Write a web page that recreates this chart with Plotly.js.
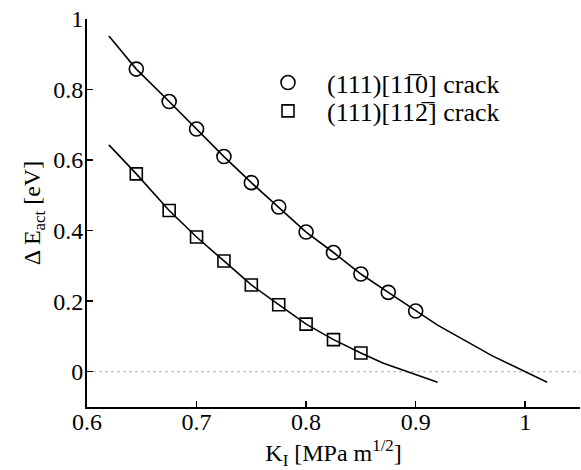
<!DOCTYPE html>
<html>
<head>
<meta charset="utf-8">
<script src="https://cdn.plot.ly/plotly-3.0.1.min.js"></script>
<style>html,body{margin:0;padding:0;background:#fff;}#chart{width:581px;height:470px;}</style>
</head>
<body>
<div id="chart"></div>
<script>
// Data
var kCircle = [0.645, 0.675, 0.7, 0.725, 0.75, 0.775, 0.8, 0.825, 0.85, 0.875, 0.9];
var eCircle = [0.858, 0.766, 0.688, 0.610, 0.536, 0.467, 0.396, 0.338, 0.277, 0.225, 0.172];
var kCircleFit = [0.62, 0.645, 0.675, 0.7, 0.725, 0.75, 0.775, 0.8, 0.825, 0.85, 0.875, 0.9, 0.92, 0.97, 1.02];
var eCircleFit = [0.952, 0.858, 0.766, 0.688, 0.610, 0.536, 0.467, 0.396, 0.338, 0.277, 0.225, 0.172, 0.132, 0.045, -0.030];

var kSquare = [0.645, 0.675, 0.7, 0.725, 0.75, 0.775, 0.8, 0.825, 0.85];
var eSquare = [0.561, 0.457, 0.382, 0.314, 0.246, 0.190, 0.135, 0.091, 0.053];
var kSquareFit = [0.62, 0.645, 0.675, 0.7, 0.725, 0.75, 0.775, 0.8, 0.825, 0.85, 0.87, 0.92];
var eSquareFit = [0.643, 0.561, 0.457, 0.382, 0.314, 0.246, 0.190, 0.135, 0.091, 0.053, 0.025, -0.030];

var xTicks = [0.6, 0.7, 0.8, 0.9, 1];
var xTickText = ['0.6', '0.7', '0.8', '0.9', '1'];
var yTicks = [0, 0.2, 0.4, 0.6, 0.8, 1];
var yTickText = ['0', '0.2', '0.4', '0.6', '0.8', '1'];

var nameCircle = '(111)[11\u03050] crack';
var nameSquare = '(111)[112\u0305] crack';

var FONT = '"Liberation Serif", "Times New Roman", Times, serif';

var traces = [
  {x: kCircleFit, y: eCircleFit, mode: 'lines', line: {color: '#000', width: 1.6}, showlegend: false, hoverinfo: 'skip'},
  {x: kSquareFit, y: eSquareFit, mode: 'lines', line: {color: '#000', width: 1.6}, showlegend: false, hoverinfo: 'skip'},
  {x: kCircle, y: eCircle, mode: 'markers', name: nameCircle, legend: 'legend',
   marker: {symbol: 'circle-open', size: 14, color: '#000', line: {width: 1.6, color: '#000'}}},
  {x: kSquare, y: eSquare, mode: 'markers', name: nameSquare, legend: 'legend2',
   marker: {symbol: 'square-open', size: 12, color: '#000', line: {width: 1.6, color: '#000'}}}
];

var layout = {
  width: 581, height: 470,
  margin: {l: 87, r: 1, t: 19, b: 63, pad: 0},
  paper_bgcolor: '#fff', plot_bgcolor: '#fff',
  font: {family: FONT, size: 24, color: '#000'},
  xaxis: {
    range: [0.6, 1.05], tickvals: xTicks, ticktext: xTickText,
    ticks: 'inside', ticklen: 6, tickwidth: 1.5, tickcolor: '#000',
    showline: true, linecolor: '#000', linewidth: 2, mirror: false,
    showgrid: false, zeroline: false, ticklabelstandoff: -8,
    tickfont: {family: FONT, size: 24, color: '#000'},
    title: {text: 'K<sub>I</sub> [MPa m<sup>1/2</sup>]', font: {family: FONT, size: 24, color: '#000'}, standoff: 10}
  },
  yaxis: {
    range: [-0.1, 1], tickvals: yTicks, ticktext: yTickText,
    ticks: 'inside', ticklen: 6, tickwidth: 1.5, tickcolor: '#000',
    showline: true, linecolor: '#000', linewidth: 2, mirror: false,
    showgrid: false, zeroline: false, ticklabelstandoff: -3,
    tickfont: {family: FONT, size: 24, color: '#000'},
    title: {text: '\u0394 E<sub>act</sub> [eV]', font: {family: FONT, size: 24, color: '#000'}, standoff: 6}
  },
  shapes: [{type: 'line', xref: 'paper', yref: 'y', x0: 0, x1: 1, y0: 0, y1: 0,
            line: {color: '#b0b0b0', width: 1, dash: 'dot'}, layer: 'below'}],
  legend: {x: 0.3286, y: 0.836, xanchor: 'left', yanchor: 'middle', bgcolor: 'rgba(0,0,0,0)', borderwidth: 0,
           itemwidth: 68, font: {family: FONT, size: 26, color: '#000'}},
  legend2: {x: 0.3286, y: 0.763, xanchor: 'left', yanchor: 'middle', bgcolor: 'rgba(0,0,0,0)', borderwidth: 0,
           itemwidth: 68, font: {family: FONT, size: 26, color: '#000'}},
  showlegend: true
};

Plotly.newPlot('chart', traces, layout, {staticPlot: true, displayModeBar: false});
</script>
</body>
</html>
